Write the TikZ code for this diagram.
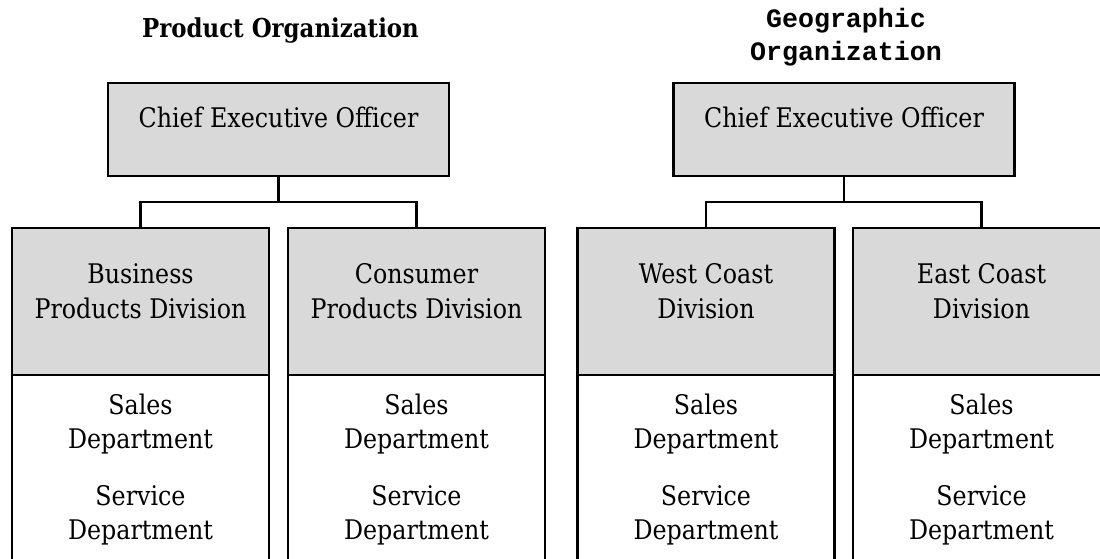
\documentclass[tikz,border=0pt]{standalone}
\usepackage{fontspec}
\setmainfont{DejaVu Serif}[FakeStretch=0.88]
\newfontfamily\titlemono{Liberation Mono}
\definecolor{boxgray}{RGB}{217,217,217}
\begin{document}
\begin{tikzpicture}[x=1pt,y=1pt,
  box/.style={draw=black, line width=2.6pt, inner sep=0pt, outer sep=0pt},
  head/.style={box, fill=boxgray},
  dept/.style={box, fill=white},
  lbl/.style={anchor=base, inner sep=0pt, font=\fontsize{27}{34}\selectfont},
  ttl/.style={anchor=base, inner sep=0pt, font=\fontsize{26}{34}\selectfont\bfseries},
  mono/.style={anchor=base, inner sep=0pt, font=\fontsize{26.6}{32}\selectfont\titlemono\bfseries},
  link/.style={draw=black, line width=2.6pt}]
\useasboundingbox (0,0) rectangle (1100,-559);

% titles
\node[ttl] (t1) at (280.5,-38) {Product Organization};
\node[mono] (t2a) at (846,-28) {Geographic};
\node[mono] (t2b) at (846,-61) {Organization};

% CEO boxes
\node[head, minimum width=341pt, minimum height=93pt] (ceoL) at (278.5,-129.5) {};
\node[head, minimum width=341pt, minimum height=93pt] (ceoR) at (844,-129.5) {};
\node[lbl] (ceoLt) at (278.5,-128) {Chief Executive Officer};
\node[lbl] (ceoRt) at (844,-128) {Chief Executive Officer};

% division boxes
\foreach \n/\x/\a/\b in {bpd/140.5/Business/Products Division,
                        cpd/416.5/Consumer/Products Division,
                        wcd/706/West Coast/Division,
                        ecd/981.5/East Coast/Division} {
  \node[head, minimum width=257pt, minimum height=147pt] (\n) at (\x,-301.5) {};
  \node[dept, minimum width=257pt, minimum height=245pt, anchor=north] (\n-d) at (\n.south) {};
  \node[lbl] (\n-l1) at (\x,-283) {\a};
  \node[lbl] (\n-l2) at (\x,-318) {\b};
  \node[lbl] (\n-s1) at (\x,-414) {Sales};
  \node[lbl] (\n-s2) at (\x,-448) {Department};
  \node[lbl] (\n-v1) at (\x,-505) {Service};
  \node[lbl] (\n-v2) at (\x,-539) {Department};
}

% connectors
\coordinate (jL) at (278.5,-202);
\coordinate (jR) at (844,-202);
\draw[link] (ceoL.south) -- (jL);
\draw[link] (jL) -| (bpd.north);
\draw[link] (jL) -| (cpd.north);
\draw[link] (ceoR.south) -- (jR);
\draw[link] (jR) -| (wcd.north);
\draw[link] (jR) -| (ecd.north);
\end{tikzpicture}
\end{document}
